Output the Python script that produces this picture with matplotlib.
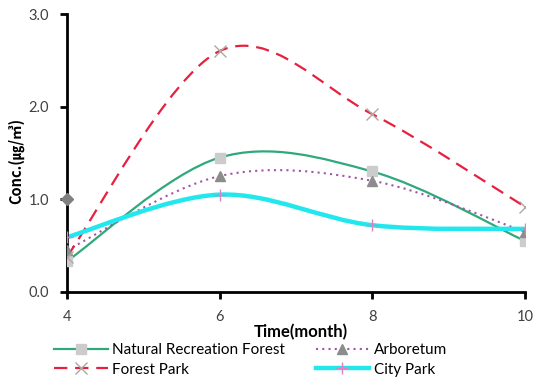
import matplotlib
matplotlib.use("Agg")
import matplotlib.pyplot as plt
from matplotlib.path import Path
from matplotlib.patches import PathPatch
from matplotlib.lines import Line2D

plt.rcParams['font.family'] = ['Lato', 'DejaVu Sans', 'Noto Sans CJK KR']

months = [4, 6, 8, 10]
natural = [0.33, 1.45, 1.30, 0.55]
arboretum = [0.45, 1.25, 1.20, 0.65]
forest_park = [0.38, 2.60, 1.92, 0.92]
city_park = [0.59, 1.05, 0.72, 0.68]
stray_x = [4]
stray_y = [1.0]
labels = ["Natural Recreation Forest", "Arboretum", "Forest Park", "City Park"]
x_ticks = [4, 6, 8, 10]
y_ticks = [0.0, 1.0, 2.0, 3.0]


def smooth_path(xs, ys):
    # Excel-style smoothed line (Catmull-Rom -> cubic Bezier)
    pts = list(zip(xs, ys))
    verts = [pts[0]]
    codes = [Path.MOVETO]
    n = len(pts)
    for i in range(n - 1):
        p0 = pts[i - 1] if i > 0 else pts[i]
        p1 = pts[i]
        p2 = pts[i + 1]
        p3 = pts[i + 2] if i + 2 < n else pts[i + 1]
        c1 = (p1[0] + (p2[0] - p0[0]) / 6, p1[1] + (p2[1] - p0[1]) / 6)
        c2 = (p2[0] - (p3[0] - p1[0]) / 6, p2[1] - (p3[1] - p1[1]) / 6)
        verts += [c1, c2, p2]
        codes += [Path.CURVE4] * 3
    return Path(verts, codes)


fig = plt.figure(figsize=(5.35, 3.81), dpi=100)
ax = fig.add_axes([0.125, 0.234, 0.856, 0.729])

series = [
    (natural, dict(color="#2FA87A", lw=1.6, ls="-"), dict(marker="s", mfc="#CCCCCC", mec="#CCCCCC", ms=7)),
    (arboretum, dict(color="#A055A8", lw=1.5, ls=(0, (1, 2))), dict(marker="^", mfc="#8C8C8C", mec="#8C8C8C", ms=7)),
    (forest_park, dict(color="#E8203F", lw=1.6, ls=(0, (6, 3.5))), dict(marker="x", mfc="#B0A8A0", mec="#B0A8A0", ms=8, mew=1.0)),
    (city_park, dict(color="#22E8EE", lw=3.2, ls="-"), dict(marker="+", mfc="#E080C0", mec="#E080C0", ms=9, mew=1.0)),
]

handles = []
for ys, lstyle, mstyle in series:
    patch = PathPatch(smooth_path(months, ys), fill=False, edgecolor=lstyle["color"],
                      lw=lstyle["lw"], ls=lstyle["ls"], zorder=2, capstyle="butt")
    ax.add_patch(patch)
    ax.plot(months, ys, ls="none", zorder=3, **mstyle)
    handles.append(Line2D([], [], color=lstyle["color"], lw=lstyle["lw"], ls=lstyle["ls"], **mstyle))

ax.plot(stray_x, stray_y, ls="none", marker="D", color="#808080", ms=6, zorder=4, clip_on=False)

ax.set_xlim(4, 10)
ax.set_ylim(0, 3)
ax.set_xticks(x_ticks)
ax.set_xticklabels([str(v) for v in x_ticks])
ax.set_yticks(y_ticks)
ax.set_yticklabels([f"{v:.1f}" for v in y_ticks])
for s in ["top", "right"]:
    ax.spines[s].set_visible(False)
for s in ["left", "bottom"]:
    ax.spines[s].set_linewidth(2)
    ax.spines[s].set_color("black")
ax.tick_params(axis="both", direction="out", length=5, width=2, color="black",
               labelsize=10.5, labelcolor="#404040", pad=8)

ax.set_xlabel("Time(month)", fontsize=12, fontweight="bold", labelpad=0, x=0.51)
ax.set_ylabel("Conc.(㎍/㎥)", fontsize=10.5, fontweight="bold", labelpad=3, y=0.47,
              family=['Noto Sans CJK KR', 'DejaVu Sans'])

order = [0, 2, 1, 3]
leg = fig.legend([handles[i] for i in order], [labels[i] for i in order],
                 loc="lower left", bbox_to_anchor=(0.09, -0.005),
                 ncol=2, frameon=False, fontsize=11, handlelength=3.5, handletextpad=0.3,
                 columnspacing=2.0, labelspacing=0.35, borderaxespad=0)

fig.savefig("out.png", dpi=100)
